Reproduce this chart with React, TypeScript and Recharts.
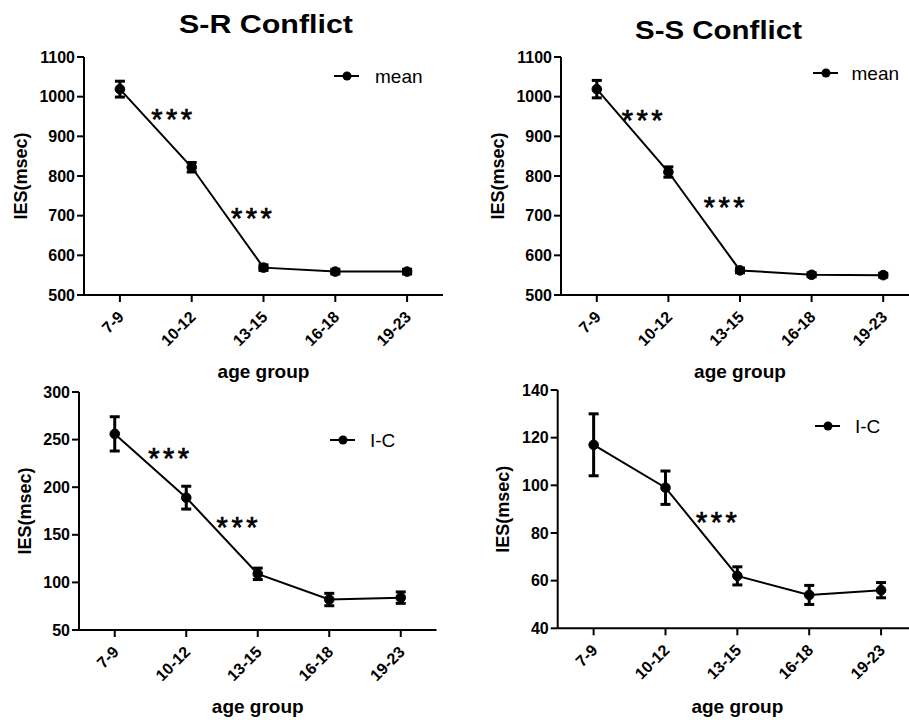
import React from 'react';
import { LineChart, Line, XAxis, YAxis, ErrorBar, ReferenceDot } from 'recharts';

const categories = ['7-9', '10-12', '13-15', '16-18', '19-23'];

const srMean = [1019, 822, 569, 559, 559];
const srMeanErr = [20, 12, 7, 6, 6];
const ssMean = [1019, 810, 562, 551, 550];
const ssMeanErr = [22, 13, 6, 5, 5];
const srIC = [256, 189, 109, 82, 84];
const srICErr = [18, 12, 6, 6.5, 6];
const ssIC = [117, 99, 62, 54, 56];
const ssICErr = [13, 7, 3.8, 4, 3.2];

const meanTicks = [500, 600, 700, 800, 900, 1000, 1100];
const srICTicks = [50, 100, 150, 200, 250, 300];
const ssICTicks = [40, 60, 80, 100, 120, 140];

const srMeanStars = [{ x: 0.744, y: 959 }, { x: 1.857, y: 710 }];
const ssMeanStars = [{ x: 0.659, y: 958 }, { x: 1.804, y: 737 }];
const srICStars = [{ x: 0.778, y: 237 }, { x: 1.735, y: 165 }];
const ssICStars = [{ x: 1.733, y: 87.5 }];

const FONT = '"Liberation Sans", Arial, sans-serif';

const build = (vals: number[], errs: number[]) =>
  categories.map((c, i) => ({ x: i, cat: c, v: vals[i], e: errs[i] }));

const AgeTick = (props: any) => {
  const { x, y, payload } = props;
  return (
    <g transform={`translate(${x + 5},${y + 14})`}>
      <text textAnchor="end" transform="rotate(-45)" fontSize={16} fontWeight="bold" fill="#000" fontFamily={FONT}>
        {categories[payload.value]}
      </text>
    </g>
  );
};

const Stars = (props: any) => {
  const { cx, cy } = props;
  return (
    <text x={cx} y={cy + 16.5} textAnchor="middle" fontSize={29} letterSpacing={3.5} fill="#000" stroke="#000" strokeWidth={0.7} fontFamily={FONT}>
      ***
    </text>
  );
};

type PanelProps = {
  left: number; top: number; width: number; height: number;
  margin: { top: number; right: number; left: number; bottom: number };
  yWidth: number; yLabelOffset: number; xHeight: number; xLabelOffset: number;
  domain: [number, number]; ticks: number[];
  vals: number[]; errs: number[]; stars: { x: number; y: number }[];
};

const Panel = (p: PanelProps) => {
  const data = build(p.vals, p.errs);
  return (
    <div style={{ position: 'absolute', left: p.left, top: p.top }}>
      <LineChart width={p.width} height={p.height} data={data} margin={p.margin}>
        <XAxis
          dataKey="x"
          type="number"
          domain={[-0.5, 4.5]}
          ticks={[0, 1, 2, 3, 4]}
          height={p.xHeight}
          tickSize={7}
          axisLine={{ stroke: '#000', strokeWidth: 2 }}
          tickLine={{ stroke: '#000', strokeWidth: 2 }}
          tick={<AgeTick />}
          label={{ value: 'age group', position: 'insideBottom', offset: p.xLabelOffset, style: { fontSize: 19, fontWeight: 'bold', fill: '#000', fontFamily: FONT } }}
        />
        <YAxis
          type="number"
          domain={p.domain}
          ticks={p.ticks}
          allowDataOverflow
          width={p.yWidth}
          tickSize={7}
          tickMargin={2}
          axisLine={{ stroke: '#000', strokeWidth: 2 }}
          tickLine={{ stroke: '#000', strokeWidth: 2 }}
          tick={{ fill: '#000', fontSize: 16, fontWeight: 'bold', fontFamily: FONT }}
          label={{ value: 'IES(msec)', angle: -90, position: 'insideLeft', offset: p.yLabelOffset, style: { textAnchor: 'middle', fontSize: 18, fontWeight: 'bold', fill: '#000', fontFamily: FONT } }}
        />
        <Line
          dataKey="v"
          stroke="#000"
          strokeWidth={2}
          dot={{ r: 4.8, fill: '#000', stroke: '#000', strokeWidth: 1 }}
          isAnimationActive={false}
        >
          <ErrorBar dataKey="e" direction="y" width={5} strokeWidth={3} stroke="#000" isAnimationActive={false} />
        </Line>
        {p.stars.map((s, i) => (
          <ReferenceDot key={i} x={s.x} y={s.y} r={0} shape={<Stars />} />
        ))}
      </LineChart>
    </div>
  );
};

const LegendMark = ({ x, y, textOffset, label }: { x: number; y: number; textOffset: number; label: string }) => (
  <svg style={{ position: 'absolute', left: x, top: y - 15 }} width={100} height={30}>
    <line x1={0} x2={25} y1={15} y2={15} stroke="#000" strokeWidth={2} />
    <circle cx={13} cy={15} r={4.5} fill="#000" />
    <text x={textOffset} y={21.5} fontSize={19} fill="#000" fontFamily={FONT}>{label}</text>
  </svg>
);

const Title = ({ cx, baseline, width, label }: { cx: number; baseline: number; width: number; label: string }) => (
  <svg style={{ position: 'absolute', left: cx - width / 2 - 10, top: 0 }} width={width + 20} height={50}>
    <text x={10} y={baseline} fontSize={25} fontWeight="bold" fill="#000" fontFamily={FONT} textLength={width} lengthAdjust="spacingAndGlyphs">
      {label}
    </text>
  </svg>
);

export default function App() {
  return (
    <div style={{ position: 'absolute', left: 0, top: 0, width: 909, height: 720, overflow: 'hidden', background: '#fff', fontFamily: FONT }}>
      <Panel left={0} top={0} width={455} height={390}
        margin={{ top: 57, right: 12, left: 5, bottom: 0 }}
        yWidth={79} yLabelOffset={15.5} xHeight={95} xLabelOffset={12}
        domain={[500, 1100]} ticks={meanTicks} vals={srMean} errs={srMeanErr} stars={srMeanStars} />
      <Panel left={455} top={0} width={476} height={390}
        margin={{ top: 57, right: 12, left: 5, bottom: 0 }}
        yWidth={101} yLabelOffset={37.6} xHeight={95} xLabelOffset={12}
        domain={[500, 1100]} ticks={meanTicks} vals={ssMean} errs={ssMeanErr} stars={ssMeanStars} />
      <Panel left={0} top={370} width={455} height={350}
        margin={{ top: 22, right: 18.5, left: 5, bottom: 0 }}
        yWidth={74} yLabelOffset={20} xHeight={90} xLabelOffset={7}
        domain={[50, 300]} ticks={srICTicks} vals={srIC} errs={srICErr} stars={srICStars} />
      <Panel left={455} top={370} width={476} height={350}
        margin={{ top: 20, right: 14, left: 5, bottom: 0 }}
        yWidth={97.7} yLabelOffset={42.7} xHeight={91.7} xLabelOffset={7}
        domain={[40, 140]} ticks={ssICTicks} vals={ssIC} errs={ssICErr} stars={ssICStars} />
      <Title cx={265.5} baseline={33} width={174} label="S-R Conflict" />
      <Title cx={718.3} baseline={39} width={167} label="S-S Conflict" />
      <LegendMark x={334} y={75.7} textOffset={41} label="mean" />
      <LegendMark x={813} y={72.7} textOffset={38.5} label="mean" />
      <LegendMark x={330} y={440} textOffset={40} label="I-C" />
      <LegendMark x={815} y={426} textOffset={40} label="I-C" />
    </div>
  );
}
